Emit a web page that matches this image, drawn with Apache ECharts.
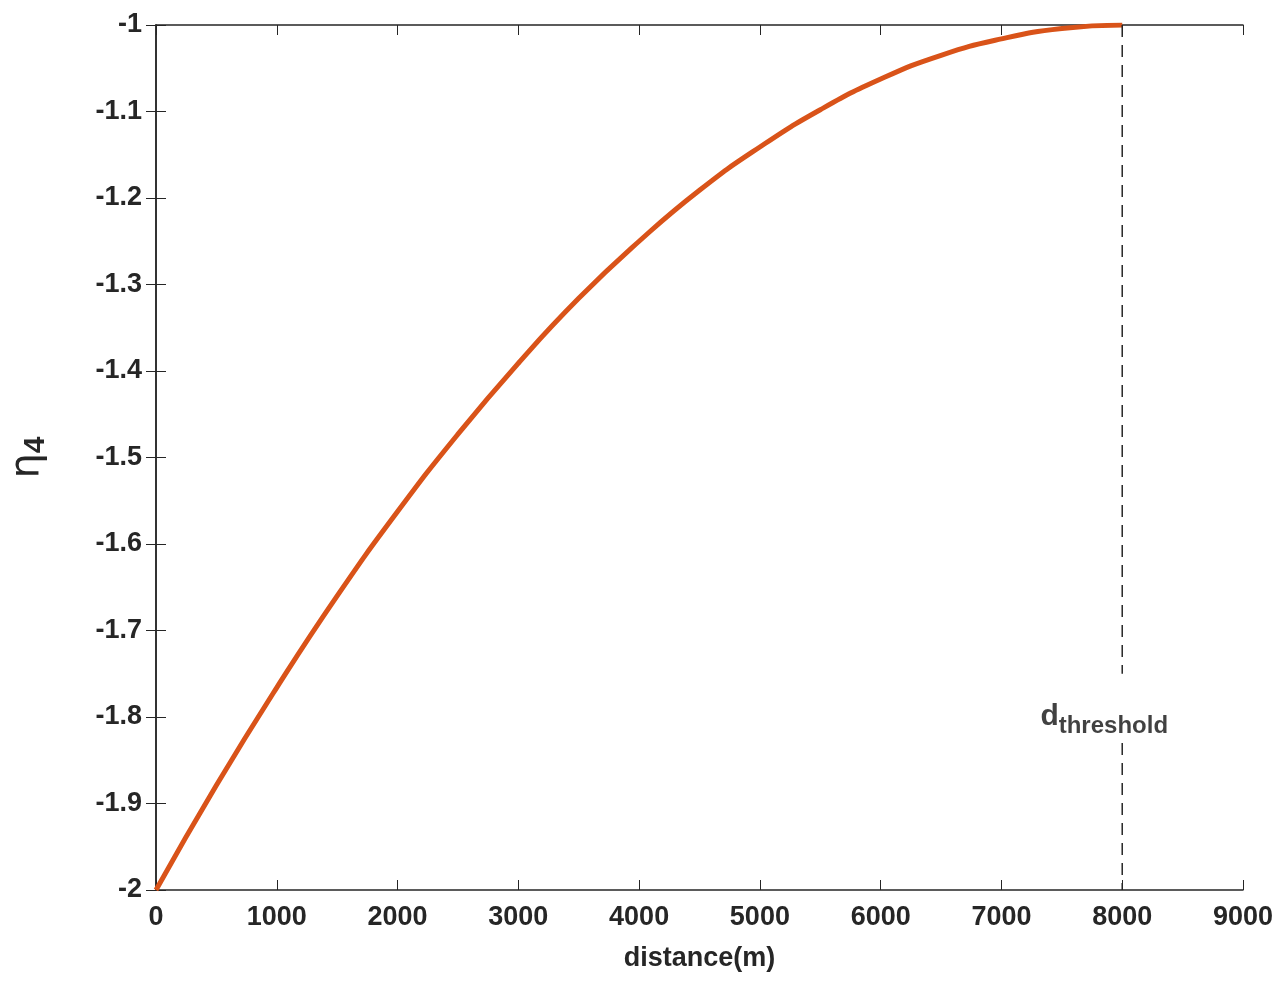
<!DOCTYPE html>
<html><head><meta charset="utf-8">
<script src="https://cdn.jsdelivr.net/npm/echarts@6/dist/echarts.min.js"></script>
<style>html,body{margin:0;padding:0;background:#fff}#c{width:1288px;height:1004px}</style>
</head><body><div id="c"></div>
<script>
const distances = [0,500,1000,1500,2000,2500,3000,3500,4000,4500,5000,5500,6000,6500,7000,7500,8000];
const eta4 = [-2,-1.879,-1.766,-1.660,-1.5625,-1.473,-1.391,-1.316,-1.25,-1.191,-1.141,-1.098,-1.0625,-1.035,-1.016,-1.004,-1];
const thresholdX = 8000;
const xTicks = [0,9000,1000];
const yTicks = [-2,-1,0.1];
const lbl = {fontFamily:'Liberation Sans, Arial', fontWeight:'bold', fontSize:27, color:'#262626'};
const chart = echarts.init(document.getElementById('c'));
const axLine = {show:true, lineStyle:{color:'#262626', width:1.5}};
const tick = {inside:true,length:10,lineStyle:{color:'#262626'}};
chart.setOption({
  animation:false,
  grid:{left:143,right:45,top:25,bottom:114},
  xAxis:[{type:'value',min:xTicks[0],max:xTicks[1],interval:xTicks[2],
    axisLine:axLine,axisTick:tick,
    axisLabel:Object.assign({margin:14,formatter:v=>String(v)},lbl),splitLine:{show:false},
    name:'distance(m)',nameLocation:'middle',nameGap:55,nameTextStyle:lbl},
    {type:'value',position:'top',min:xTicks[0],max:xTicks[1],interval:xTicks[2],axisLine:axLine,
    axisTick:tick,axisLabel:{show:false},splitLine:{show:false}}],
  yAxis:[{type:'value',min:yTicks[0],max:yTicks[1],interval:yTicks[2],
    axisLine:axLine,axisTick:tick,
    axisLabel:Object.assign({margin:14,formatter:v=>String(Math.round(v*10)/10)},lbl),splitLine:{show:false},
    name:'{e|η}{s|4}',nameLocation:'middle',nameGap:105,
    nameTextStyle:{rich:{e:{fontFamily:'DejaVu Sans',fontSize:40,color:'#262626'},
      s:{fontFamily:'Liberation Sans',fontWeight:'bold',fontSize:30,color:'#262626',padding:[16,0,0,0]}}}},
    {type:'value',position:'right',min:yTicks[0],max:yTicks[1],interval:yTicks[2],axisLine:axLine,
    axisTick:tick,axisLabel:{show:false},splitLine:{show:false}}],
  series:[
    {type:'line',data:distances.map((d,i)=>[d,eta4[i]]),smooth:true,showSymbol:false,
     lineStyle:{color:'#D95319',width:5}},
    {type:'line',data:[[thresholdX,-1],[thresholdX,-1.75]],showSymbol:false,lineStyle:{color:'#262626',width:1.5,type:[12,8]}},
    {type:'line',data:[[thresholdX,-1.83],[thresholdX,-2]],showSymbol:false,lineStyle:{color:'#262626',width:1.5,type:[12,8]}},
    {type:'scatter',data:[[thresholdX,-1.8]],symbolSize:0,
     label:{show:true,position:'inside',offset:[-18,0],
       formatter:'{a|d}{b|threshold}',
       rich:{a:Object.assign({},lbl,{fontSize:30,color:'#111'}),b:Object.assign({},lbl,{fontSize:24,color:'#111',padding:[18,0,0,0]})}}}
  ]
});
</script></body></html>
